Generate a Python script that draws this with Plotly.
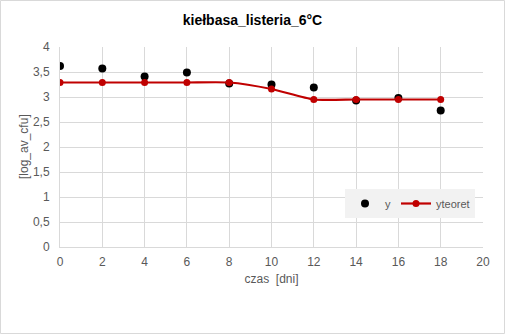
import plotly.graph_objects as go

# Listeria counts in sausage stored at 6°C
czas = [0, 2, 4, 6, 8, 10, 12, 14, 16, 18]
y_obs = [3.62, 3.57, 3.41, 3.49, 3.27, 3.25, 3.19, 2.93, 2.98, 2.73]
y_teoret = [3.29, 3.29, 3.29, 3.29, 3.29, 3.16, 2.95, 2.95, 2.95, 2.95]

x_ticks = list(range(0, 21, 2))
y_ticks = [0, 0.5, 1, 1.5, 2, 2.5, 3, 3.5, 4]

W, H = 505, 334
L, R, T, B = 60, 22, 47, 87
pw, ph = W - L - R, H - T - B

narrow = "Liberation Sans Narrow, Arial Narrow, Arial"
tick_font = dict(family=narrow, size=12, color="#595959")

fig = go.Figure()
fig.add_trace(go.Scatter(
    x=czas, y=y_obs, mode="markers", name="y",
    marker=dict(color="black", size=8),
))
fig.add_trace(go.Scatter(
    x=czas, y=y_teoret, mode="lines+markers", name="yteoret",
    line=dict(color="#c00000", width=2.2, shape="spline", smoothing=0.6),
    marker=dict(color="#c00000", size=7),
))

fig.update_layout(
    width=W, height=H,
    margin=dict(l=L, r=R, t=T, b=B),
    paper_bgcolor="white", plot_bgcolor="white",
    separators=", ",
    title=dict(text="<b>kiełbasa_listeria_6°C</b>", x=0.5, xanchor="center",
               y=1 - 20 / H, yanchor="middle",
               font=dict(family="Arial, Liberation Sans", size=14, color="black")),
    xaxis=dict(range=[0, 20], tickvals=x_ticks, showgrid=True, gridcolor="#d9d9d9",
               zeroline=False, showline=True, linecolor="#d9d9d9",
               tickfont=tick_font, ticks="", ticklabelstandoff=4,
               title=dict(text="czas  [dni]", font=tick_font, standoff=6)),
    yaxis=dict(range=[0, 4], tickvals=y_ticks, showgrid=True, gridcolor="#d9d9d9",
               zeroline=False, showline=True, linecolor="#d9d9d9",
               tickfont=tick_font, ticks="", tickformat=".1~f", ticklabelstandoff=7),
    annotations=[dict(text="[log_av_cfu]", textangle=-90, xref="paper", yref="paper",
                      x=(24 - L) / pw, y=0.5, xanchor="center", yanchor="middle",
                      showarrow=False, font=tick_font)],
    legend=dict(orientation="h", x=(345 - L) / pw, y=(247 - 189) / ph,
                xanchor="left", yanchor="top", bgcolor="#f2f2f2",
                font=dict(family=narrow, size=11, color="#595959"),
                itemwidth=30, tracegroupgap=0),
    showlegend=True,
    shapes=[dict(type="rect", xref="paper", yref="paper",
                 x0=(0.5 - L) / pw, x1=(W - 0.5 - L) / pw,
                 y0=(T + ph - (H - 0.5)) / ph, y1=(T + ph - 0.5) / ph,
                 line=dict(color="#d9d9d9", width=1), fillcolor="rgba(0,0,0,0)")],
)

fig.write_html("out.html")
